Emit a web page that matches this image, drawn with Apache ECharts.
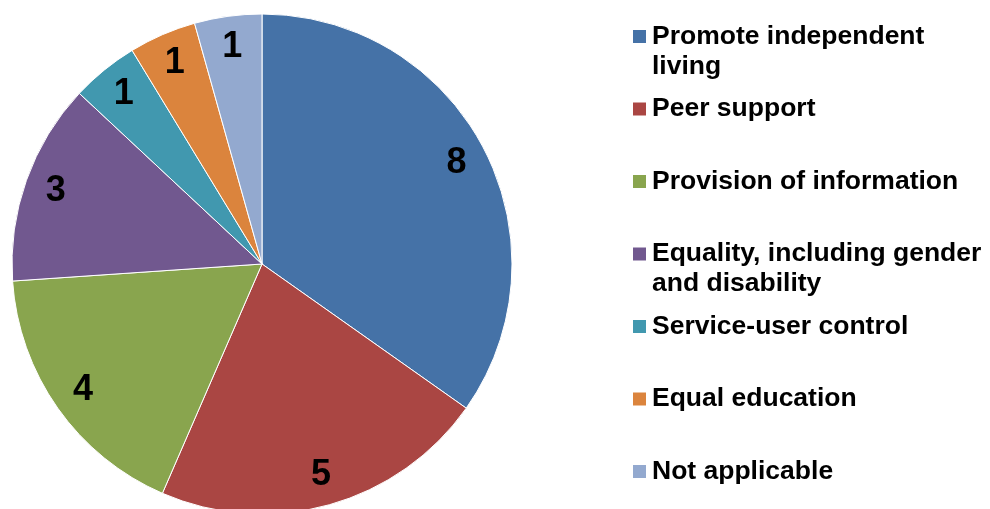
<!DOCTYPE html>
<html>
<head>
<meta charset="utf-8">
<script src="https://cdn.jsdelivr.net/npm/echarts@6/dist/echarts.min.js"></script>
<style>
  html, body { margin: 0; padding: 0; background: #fff; }
  #chart { width: 990px; height: 509px; }
</style>
</head>
<body>
<div id="chart"></div>
<script>
  // data
  const categories = [
    "Promote independent living",
    "Peer support",
    "Provision of information",
    "Equality, including gender and disability",
    "Service-user control",
    "Equal education",
    "Not applicable"
  ];
  const values = [8, 5, 4, 3, 1, 1, 1];
  const colors = ["#4572A7", "#AA4643", "#89A54E", "#71588F", "#4198AF", "#DB843D", "#93A9CF"];
  // legend line breaks as in the original
  const legendLines = [
    ["Promote independent", "living"],
    ["Peer support", ""],
    ["Provision of information", ""],
    ["Equality, including gender", "and disability"],
    ["Service-user control", ""],
    ["Equal education", ""],
    ["Not applicable", ""]
  ];

  const chart = echarts.init(document.getElementById("chart"));

  const pieData = categories.map((name, i) => ({
    name: name,
    value: values[i],
    itemStyle: { color: colors[i] }
  }));

  const rich = {
    t: { fontFamily: "Liberation Sans, Arial", fontWeight: "bold", fontSize: 26.5, color: "#000", lineHeight: 30, padding: [0, 0, 0, 6] },
    s: { width: 13, height: 13 }
  };
  colors.forEach((c, i) => {
    rich["m" + i] = { width: 13, height: 13, backgroundColor: c, verticalAlign: "middle" };
  });

  const option = {
    animation: false,
    legend: {
      orient: "vertical",
      left: 627,
      top: 23,
      padding: 0,
      itemGap: 15.5,
      itemWidth: 0,
      itemHeight: 0,
      selectedMode: false,
      data: categories,
      formatter: function (name) {
        const i = categories.indexOf(name);
        const l = legendLines[i];
        let s = "{m" + i + "| }{t|" + l[0] + "}";
        // every item takes two lines of space except the last one
        if (i < categories.length - 1) s += "\n{s| }{t|" + (l[1] || " ") + "}";
        return s;
      },
      textStyle: { rich: rich }
    },
    series: [
      {
        type: "pie",
        center: [262, 264],
        radius: [0, 250],
        startAngle: 90,
        clockwise: true,
        data: pieData,
        itemStyle: { borderColor: "#fff", borderWidth: 1 },
        label: { show: false },
        labelLine: { show: false },
        emphasis: { disabled: true }
      },
      {
        // transparent ring used only to place the value labels
        type: "pie",
        center: [262, 264],
        radius: [182, 250],
        startAngle: 90,
        clockwise: true,
        silent: true,
        legendHoverLink: false,
        data: categories.map((name, i) => ({ name: name, value: values[i] })),
        itemStyle: { color: "rgba(0,0,0,0)", borderWidth: 0 },
        label: {
          show: true,
          position: "inside",
          formatter: "{c}",
          fontFamily: "Liberation Sans, Arial",
          fontWeight: "bold",
          fontSize: 36,
          color: "#000"
        },
        labelLine: { show: false },
        emphasis: { disabled: true }
      }
    ]
  };

  chart.setOption(option);
</script>
</body>
</html>
